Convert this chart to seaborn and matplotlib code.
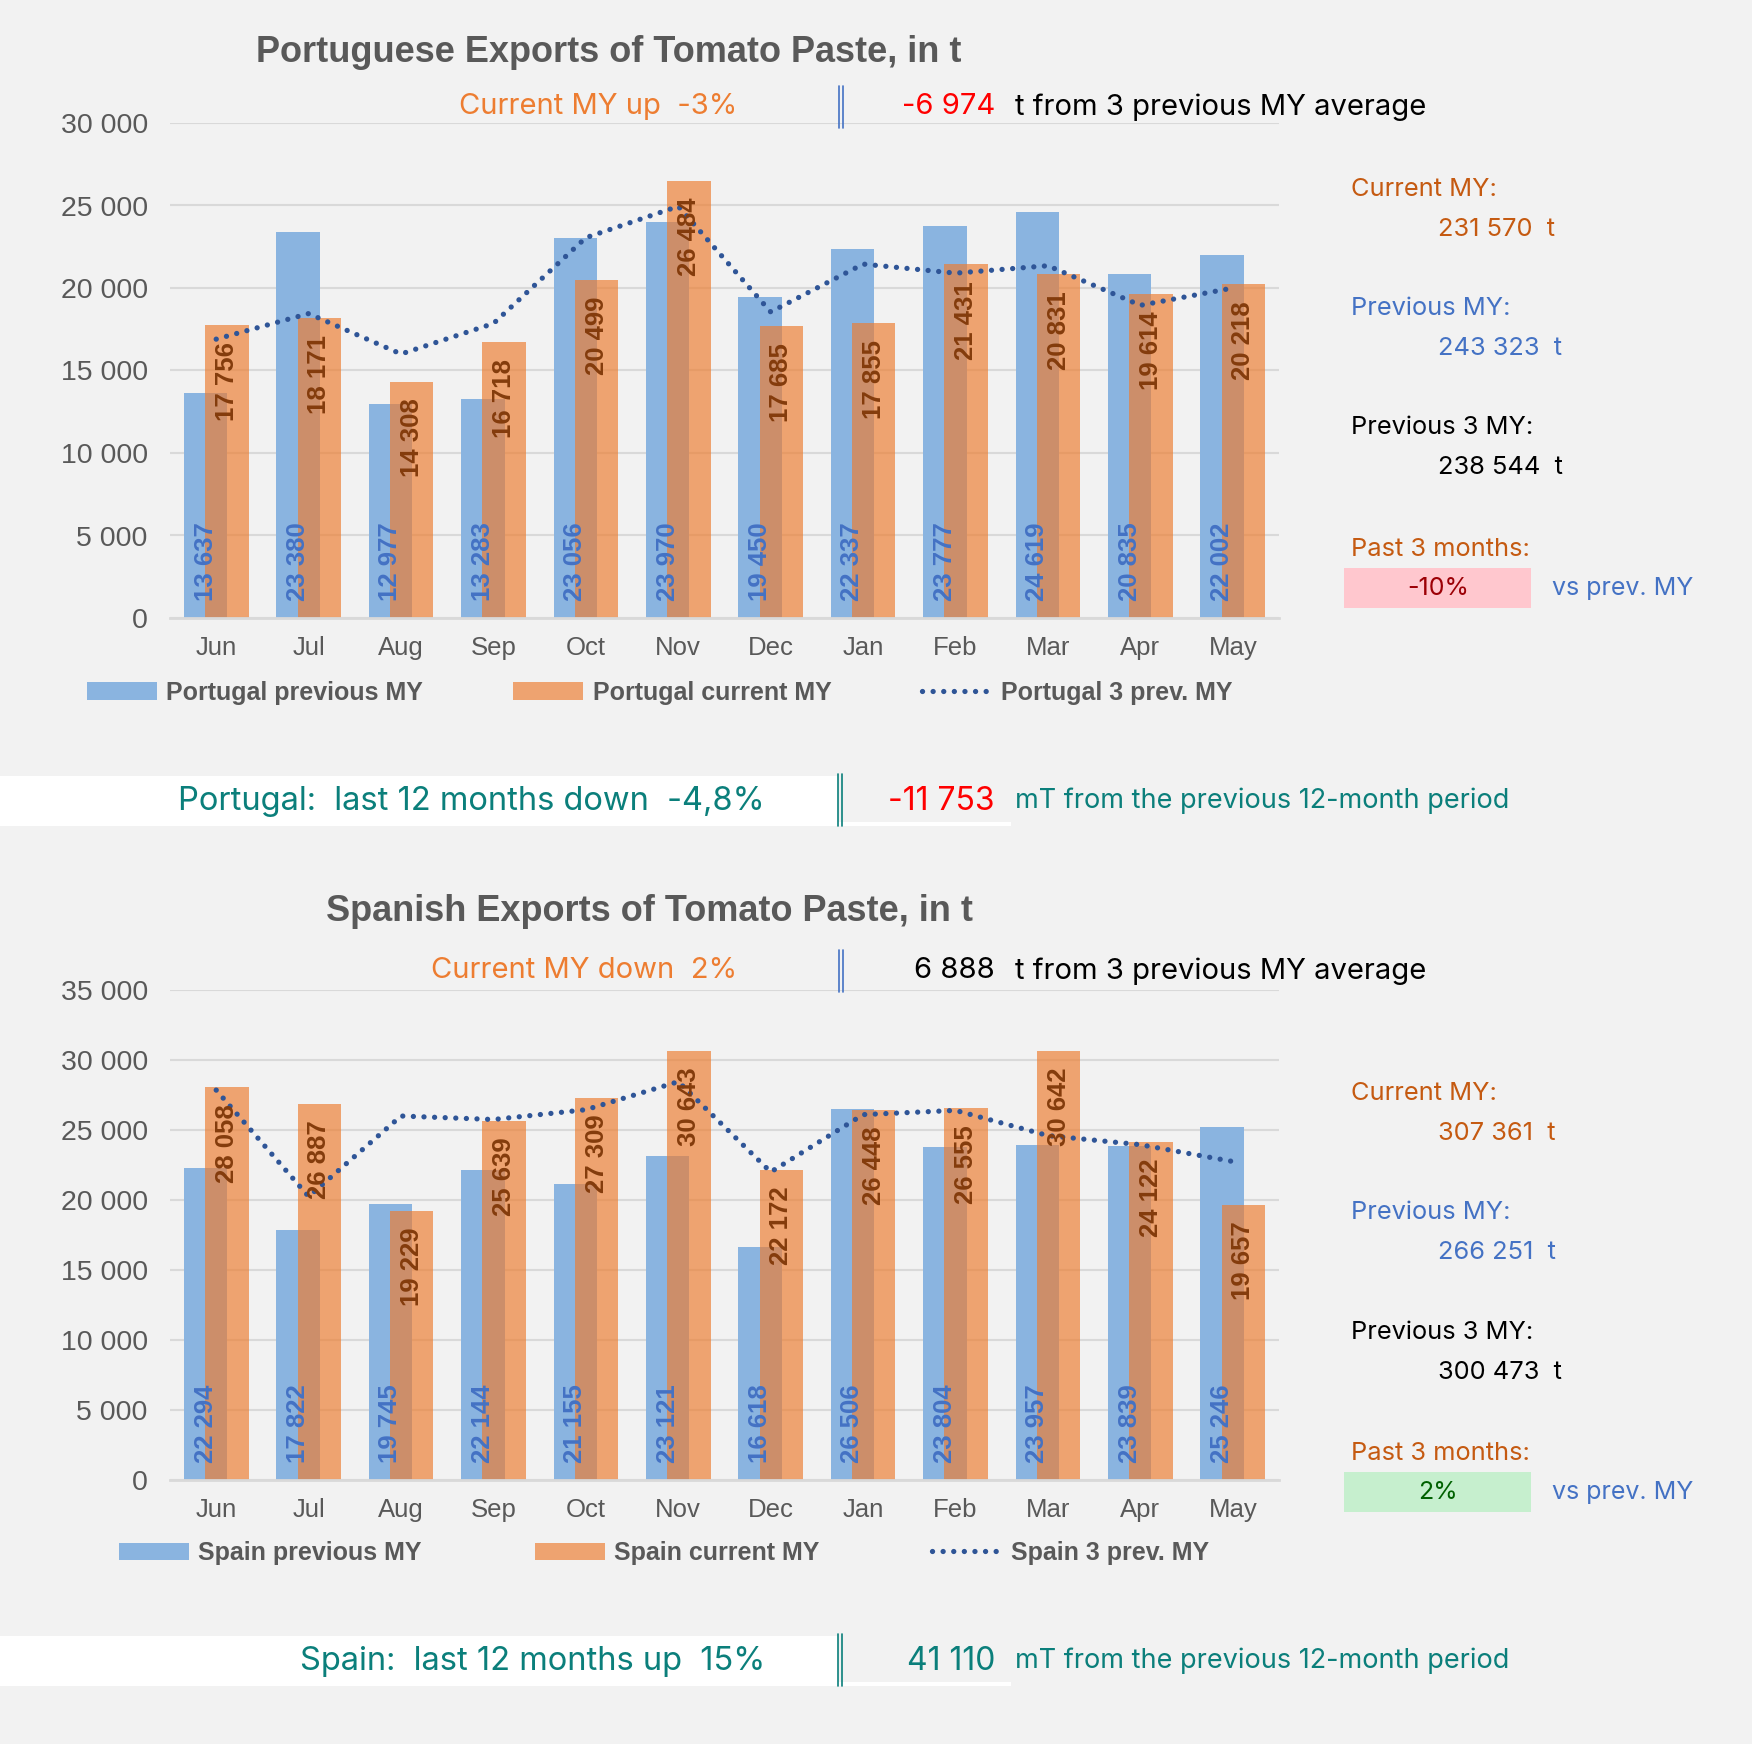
import numpy as np
import pandas as pd
import matplotlib
matplotlib.use("Agg")
import matplotlib.pyplot as plt
from matplotlib.patches import Patch, Rectangle
from matplotlib.lines import Line2D
from matplotlib.ticker import FuncFormatter, MultipleLocator
import seaborn as sns

# data
months = ["Jun", "Jul", "Aug", "Sep", "Oct", "Nov", "Dec", "Jan", "Feb", "Mar", "Apr", "May"]

pt_prev = [13637, 23380, 12977, 13283, 23056, 23970, 19450, 22337, 23777, 24619, 20835, 22002]
pt_curr = [17756, 18171, 14308, 16718, 20499, 26484, 17685, 17855, 21431, 20831, 19614, 20218]
pt_avg3 = [16900, 18450, 16000, 17850, 23050, 24950, 18550, 21450, 20900, 21350, 18950, 20000]

es_prev = [22294, 17822, 19745, 22144, 21155, 23121, 16618, 26506, 23804, 23957, 23839, 25246]
es_curr = [28058, 26887, 19229, 25639, 27309, 30643, 22172, 26448, 26555, 30642, 24122, 19657]
es_avg3 = [27850, 20250, 26000, 25750, 26450, 28450, 22000, 26100, 26400, 24600, 23950, 22750]

pt_totals = ["231 570  t", "243 323  t", "238 544  t"]
es_totals = ["307 361  t", "266 251  t", "300 473  t"]
pt_past3 = "-10%"
es_past3 = "2%"

W, H = 1752, 1744
BG = "#F2F2F2"
BLUE = "#8AB4E0"
ORANGE = "#ED7D31"
LINE = "#2F5597"
GREY = "#595959"
TEAL = "#0B7F7B"
BROWN = "#C55A11"
MIDBLUE = "#4472C4"
DOTS = (0, (0.01, 2.0))

CHART_FONT = ["Liberation Sans", "DejaVu Sans"]
BOX_FONT = ["Inter", "DejaVu Sans"]


def fx(x):
    return x / W


def fy(y):
    return 1 - y / H


def thousands(v, pos=None):
    return f"{int(round(v)):,}".replace(",", " ")


sns.set_style("white")
plt.rcParams["font.family"] = CHART_FONT

fig = plt.figure(figsize=(W / 100, H / 100), dpi=100, facecolor=BG)


def draw_chart(ax, prev, curr, avg3, ymax):
    df = pd.DataFrame({"month": months, "prev": prev, "curr": curr, "avg3": avg3})
    df["idx"] = np.arange(len(months))
    df["x_prev"] = df["idx"] - 0.115
    df["x_curr"] = df["idx"] + 0.115

    sns.barplot(data=df, x="x_prev", y="prev", native_scale=True, width=0.47,
                color=BLUE, saturation=1, errorbar=None, linewidth=0, ax=ax)
    sns.barplot(data=df, x="x_curr", y="curr", native_scale=True, width=0.47,
                color=ORANGE, saturation=1, errorbar=None, linewidth=0,
                alpha=0.675, ax=ax)
    sns.lineplot(data=df, x="idx", y="avg3", color=LINE, lw=3.8,
                 linestyle=DOTS, dash_capstyle="round", ax=ax)

    for _, r in df.iterrows():
        ax.annotate(thousands(r["prev"]), xy=(r["x_prev"], 0), xytext=(0, 12),
                    textcoords="offset points", rotation=90, ha="center", va="bottom",
                    fontsize=18.5, fontweight="bold", color=MIDBLUE)
        ax.annotate(thousands(r["curr"]), xy=(r["x_curr"], r["curr"]), xytext=(0, -12),
                    textcoords="offset points", rotation=90, ha="center", va="top",
                    fontsize=18.5, fontweight="bold", color="#843C0C")

    ax.set_facecolor("none")
    ax.set_xlim(-0.5, len(months) - 0.5)
    ax.set_ylim(0, ymax)
    ax.set_xticks(df["idx"], months)
    ax.yaxis.set_major_locator(MultipleLocator(5000))
    ax.yaxis.set_major_formatter(FuncFormatter(thousands))
    ax.set_xlabel("")
    ax.set_ylabel("")
    ax.yaxis.grid(True, color="#D9D9D9", lw=1.5)
    ax.set_axisbelow(True)
    for side in ["top", "left", "right"]:
        ax.spines[side].set_visible(False)
    ax.spines["bottom"].set_color("#D9D9D9")
    ax.spines["bottom"].set_linewidth(2)
    ax.tick_params(axis="y", length=0, pad=16, labelsize=20.5, labelcolor=GREY)
    ax.tick_params(axis="x", length=0, pad=13, labelsize=18.5, labelcolor=GREY)


def side_panel(y0, totals, past3, good):
    rows = [("Current MY:", BROWN), ("Previous MY:", MIDBLUE), ("Previous 3 MY:", "black")]
    for k, ((lab, col), tot) in enumerate(zip(rows, totals)):
        y = y0 + k * 119.5
        fig.text(fx(1351), fy(y), lab, color=col, fontsize=18.3, family=BOX_FONT, va="center")
        fig.text(fx(1438), fy(y + 40), tot, color=col, fontsize=18.3, family=BOX_FONT, va="center")
    fig.text(fx(1351), fy(y0 + 360), "Past 3 months:", color=BROWN, fontsize=18.3,
             family=BOX_FONT, va="center")
    face, txt = ("#C6EFCE", "#006100") if good else ("#FFC7CE", "#9C0006")
    fig.patches.append(Rectangle((fx(1344), fy(y0 + 419)), fx(1531) - fx(1344),
                                 fy(y0 + 379) - fy(y0 + 419), transform=fig.transFigure,
                                 facecolor=face, edgecolor="none"))
    fig.text(fx(1438), fy(y0 + 399), past3, color=txt, fontsize=18, family=BOX_FONT,
             ha="center", va="center")
    fig.text(fx(1552), fy(y0 + 399), "vs prev. MY", color=MIDBLUE, fontsize=18,
             family=BOX_FONT, va="center")


def double_bar(x, y_top, y_bot, color):
    for dx in (0, 4):
        fig.add_artist(Line2D([fx(x + dx), fx(x + dx)], [fy(y_top), fy(y_bot)],
                              transform=fig.transFigure, color=color, lw=1.2))


def subtitle(y, left_txt, num_txt, num_col):
    fig.text(fx(737), fy(y), left_txt, color=ORANGE, fontsize=21, family=BOX_FONT,
             ha="right", va="center")
    double_bar(839, y - 21, y + 21, MIDBLUE)
    fig.text(fx(995), fy(y), num_txt, color=num_col, fontsize=21, family=BOX_FONT,
             ha="right", va="center")
    fig.text(fx(1015), fy(y), "t from 3 previous MY average", color="black", fontsize=21,
             family=BOX_FONT, va="center")


def band(y, left_txt, num_txt, num_col):
    fig.patches.append(Rectangle((0, fy(y + 25)), fx(838), fy(y - 25) - fy(y + 25),
                                 transform=fig.transFigure, facecolor="white", edgecolor="none"))
    fig.patches.append(Rectangle((fx(838), fy(y + 25)), fx(1011) - fx(838), 4 / H,
                                 transform=fig.transFigure, facecolor="white", edgecolor="none"))
    double_bar(838, y - 27, y + 25, TEAL)
    fig.text(fx(765), fy(y), left_txt, color=TEAL, fontsize=23.5, family=BOX_FONT,
             ha="right", va="center")
    fig.text(fx(995), fy(y), num_txt, color=num_col, fontsize=23, family=BOX_FONT,
             ha="right", va="center")
    fig.text(fx(1015), fy(y), "mT from the previous 12-month period", color=TEAL,
             fontsize=19.5, family=BOX_FONT, va="center")


def legend(x, y, country, colspace):
    handles = [Patch(facecolor=BLUE, edgecolor="none"),
               Patch(facecolor=ORANGE, alpha=0.675, edgecolor="none"),
               Line2D([], [], color=LINE, lw=3.8, linestyle=DOTS, dash_capstyle="round")]
    labels = [f"{country} previous MY", f"{country} current MY", f"{country} 3 prev. MY"]
    fig.legend(handles, labels, loc="center left", bbox_to_anchor=(fx(x), fy(y)),
               ncol=3, frameon=False, handlelength=2.8, handleheight=0.7,
               handletextpad=0.38, columnspacing=colspace, borderpad=0, borderaxespad=0,
               prop=dict(weight="bold", size=18), labelcolor=GREY)


# Portugal
ax1 = fig.add_axes([fx(170), fy(618), fx(1279) - fx(170), fy(123) - fy(618)])
draw_chart(ax1, pt_prev, pt_curr, pt_avg3, 30000)
fig.text(fx(609), fy(52), "Portuguese Exports of Tomato Paste, in t", color=GREY,
         fontsize=26, fontweight="bold", ha="center", va="center")
subtitle(107, "Current MY up  -3%", "-6 974", "#FF0000")
legend(87, 693, "Portugal", 3.6)
side_panel(189, pt_totals, pt_past3, good=False)
band(801, "Portugal:  last 12 months down  -4,8%", "-11 753", "#FF0000")

# Spain
ax2 = fig.add_axes([fx(170), fy(1480), fx(1279) - fx(170), fy(990) - fy(1480)])
draw_chart(ax2, es_prev, es_curr, es_avg3, 35000)
fig.text(fx(649), fy(911), "Spanish Exports of Tomato Paste, in t", color=GREY,
         fontsize=26, fontweight="bold", ha="center", va="center")
subtitle(971, "Current MY down  2%", "6 888", "black")
legend(119, 1553, "Spain", 4.5)
side_panel(1093, es_totals, es_past3, good=True)
band(1661, "Spain:  last 12 months up  15%", "41 110", TEAL)

fig.savefig("out.png", dpi=100, facecolor=BG)
